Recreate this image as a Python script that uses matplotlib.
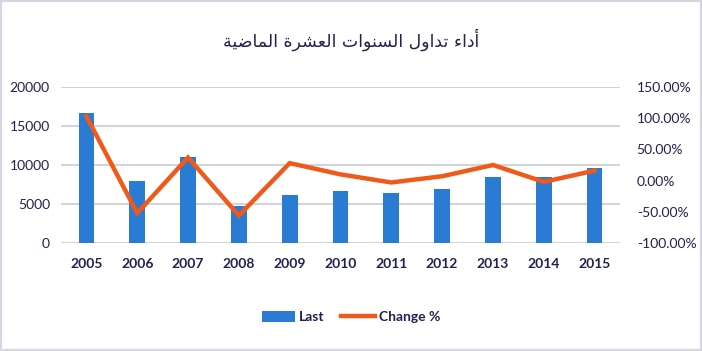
import matplotlib
matplotlib.use("Agg")
import matplotlib.pyplot as plt
from matplotlib.patches import Rectangle, Patch
from matplotlib.lines import Line2D
from matplotlib.ticker import FuncFormatter, MultipleLocator

years = ["2005", "2006", "2007", "2008", "2009", "2010", "2011", "2012", "2013", "2014", "2015"]
last_values = [16700, 8000, 11000, 4800, 6100, 6700, 6400, 6900, 8500, 8400, 9650]
change_pct = [1.03, -0.52, 0.37, -0.56, 0.28, 0.10, -0.03, 0.07, 0.25, -0.02, 0.16]
title_text = "أداء تداول السنوات العشرة الماضية"
legend_labels = ["Last", "Change %"]

# --- minimal Arabic shaping (presentation forms) since matplotlib has no bidi/shaping ---
FORMS = {
    "ا": (0xFE8D, 0xFE8E, None, None),
    "أ": (0xFE83, 0xFE84, None, None),
    "د": (0xFEA9, 0xFEAA, None, None),
    "ر": (0xFEAD, 0xFEAE, None, None),
    "و": (0xFEED, 0xFEEE, None, None),
    "ة": (0xFE93, 0xFE94, None, None),
    "ء": (0xFE80, None, None, None),
    "ت": (0xFE95, 0xFE96, 0xFE97, 0xFE98),
    "ل": (0xFEDD, 0xFEDE, 0xFEDF, 0xFEE0),
    "س": (0xFEB1, 0xFEB2, 0xFEB3, 0xFEB4),
    "ن": (0xFEE5, 0xFEE6, 0xFEE7, 0xFEE8),
    "ع": (0xFEC9, 0xFECA, 0xFECB, 0xFECC),
    "ش": (0xFEB5, 0xFEB6, 0xFEB7, 0xFEB8),
    "م": (0xFEE1, 0xFEE2, 0xFEE3, 0xFEE4),
    "ض": (0xFEBD, 0xFEBE, 0xFEBF, 0xFEC0),
    "ي": (0xFEF1, 0xFEF2, 0xFEF3, 0xFEF4),
}


def shape(text):
    out = []
    n = len(text)
    for i, ch in enumerate(text):
        if ch not in FORMS:
            out.append(ch)
            continue
        iso, fin, ini, med = FORMS[ch]
        prev = text[i - 1] if i > 0 else None
        nxt = text[i + 1] if i < n - 1 else None
        pj = prev in FORMS and FORMS[prev][2] is not None and fin is not None
        nj = nxt in FORMS and FORMS[nxt][1] is not None and ini is not None
        if pj and nj:
            cp = med
        elif pj:
            cp = fin
        elif nj:
            cp = ini
        else:
            cp = iso
        out.append(chr(cp))
    return "".join(out)[::-1]


text_color = "#1f2150"
bar_color = "#2a7bd3"
line_color = "#ef5a1a"
grid_color = "#d3d3de"
FONT = "Lato"

fig = plt.figure(figsize=(7.02, 3.51), dpi=100)
fig.patch.set_facecolor("white")
fig.patches.append(Rectangle((0, 0), 1, 1, transform=fig.transFigure, fill=False,
                             edgecolor="#d6d6e0", linewidth=3, zorder=0))

ax = fig.add_axes([61 / 702, 1 - 243 / 351, (620 - 61) / 702, (243 - 87) / 351])
x = list(range(len(years)))
ax.bar(x, last_values, width=0.31, color=bar_color, zorder=2)
ax.set_ylim(0, 20000)
ax.set_xlim(-0.5, len(years) - 0.5)
ax.yaxis.set_major_locator(MultipleLocator(5000))
ax.set_xticks(x)
ax.set_xticklabels(years)
ax.grid(axis="y", color=grid_color, linewidth=1.5, zorder=0)
ax.set_axisbelow(True)
for s in ax.spines.values():
    s.set_visible(False)
ax.tick_params(axis="both", length=0)
ax.tick_params(axis="y", pad=8, labelsize=10, labelcolor=text_color)
ax.tick_params(axis="x", pad=11, labelsize=10, labelcolor=text_color)
for lab in ax.get_yticklabels():
    lab.set_fontfamily(FONT)
for lab in ax.get_xticklabels():
    lab.set_fontfamily(FONT)
    lab.set_fontweight("bold")

ax2 = ax.twinx()
ax2.plot(x, change_pct, color=line_color, linewidth=3.2, solid_joinstyle="miter", zorder=3)
ax2.set_ylim(-1.0, 1.5)
ax2.yaxis.set_major_locator(MultipleLocator(0.5))
ax2.yaxis.set_major_formatter(FuncFormatter(lambda v, p: f"{v * 100:.2f}%"))
for s in ax2.spines.values():
    s.set_visible(False)
ax2.tick_params(axis="y", length=0, pad=12, labelsize=10, labelcolor=text_color)
for lab in ax2.get_yticklabels():
    lab.set_fontfamily(FONT)

fig.text(0.5, 1 - 40 / 351, shape(title_text), ha="center", va="center",
         fontsize=12.5, color=text_color, family=["DejaVu Sans"])

handles = [Patch(facecolor=bar_color, edgecolor="none"),
           Line2D([0], [0], color=line_color, linewidth=3.2)]
leg = fig.legend(handles, legend_labels, loc="center", bbox_to_anchor=(0.5, 1 - 317 / 351),
                 ncol=2, frameon=False, handlelength=2.4, handleheight=0.8, handletextpad=0.3,
                 columnspacing=1.2, prop={"family": FONT, "weight": "bold", "size": 10})
for t in leg.get_texts():
    t.set_color(text_color)

fig.savefig("out.png", dpi=100, facecolor="white")
